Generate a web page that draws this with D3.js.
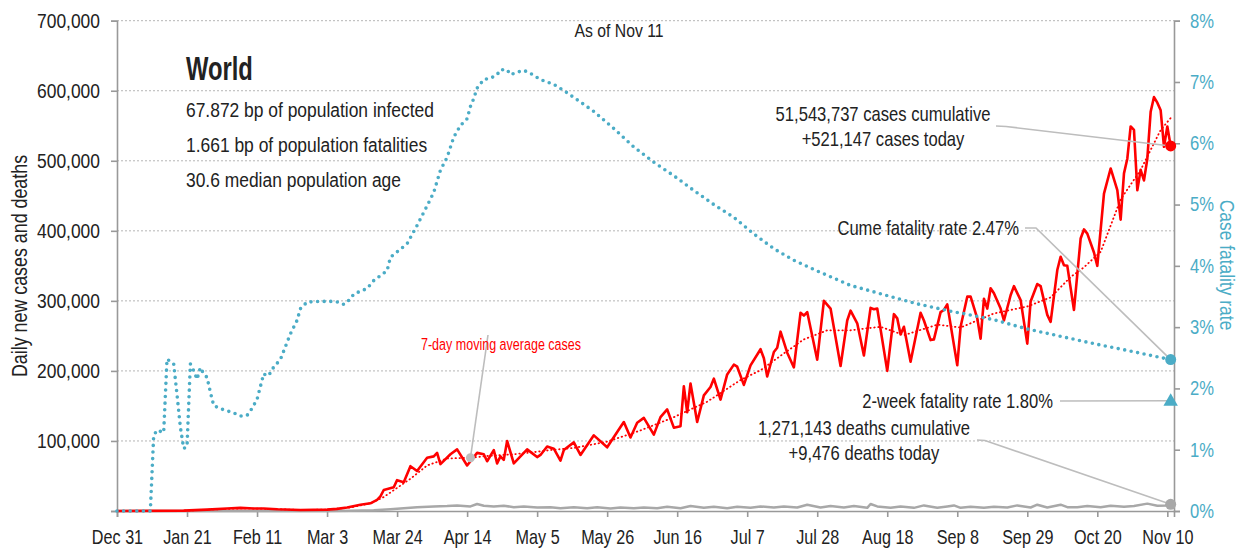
<!DOCTYPE html>
<html>
<head>
<meta charset="utf-8">
<script src="https://cdn.jsdelivr.net/npm/d3@7"></script>
<style>
  body { margin: 0; background: #fff; }
  svg text { font-family: "Liberation Sans Narrow", "Liberation Sans", Arial, sans-serif; fill: #222; }
</style>
</head>
<body>
<svg id="chart" width="1241" height="548"></svg>
<script>
// days are counted from Dec 31, 2019; case and death values in thousands
const casesDaily = [[0,0],[20,0.5],[27,2],[33,3.5],[37,4.5],[41,3.5],[44,3.5],[48,2.5],[55,1.5],[63,2],[66,3],[69,5],[73,9],[76,11],[78,16],[79,21],[80,30],
  [83,34],[84,44],[86,41],[88,64],[90,57],[93,76],[95,78],[96,83],[97,67],[100,81],[102,88],[105,65],[108,83],[110,81],[111,71],[113,87],[114,68],
  [115,78],[116,73],[117,100],[119,68],[123,88],[126,77],[127,80],[129,92],[131,89],[133,72],[134,87],[137,98],[139,80],[143,108],[147,91],[151,120],
  [152,127],[154,105],[156,126],[158,133],[161,109],[163,134],[165,145],[167,119],[169,121],[170,178],[171,141],[172,182],[174,127],[176,165],[178,177],
  [179,189],[181,159],[183,195],[185,209],[186,206],[188,180],[190,208],[193,231],[194,218],[195,192],[197,227],[198,233],[199,256],[201,226],[203,205],
  [205,283],[206,279],[207,284],[210,216],[212,300],[214,289],[217,207],[219,272],[220,286],[222,268],[224,222],[226,290],[227,288],[228,289],[231,200],
  [233,281],[234,275],[235,252],[236,263],[238,213],[241,283],[242,272],[244,244],[245,245],[247,284],[248,287],[249,295],[252,208],[253,263],[255,306],
  [256,306],[258,275],[259,246],[260,303],[261,289],[262,318],[263,311],[265,289],[266,272],[268,308],[269,321],[271,301],[273,239],[274,299],[276,324],
  [277,321],[279,280],[280,270],[282,344],[283,363],[284,351],[285,350],[287,287],[289,389],[290,402],[291,396],[293,369],[294,350],[296,453],[298,489],
  [300,458],[301,416],[302,482],[303,503],[304,549],[305,544],[306,458],[307,487],[308,472],[309,503],[310,570],[311,591],[312,583],[313,572],[314,520],
  [315,549],[316,521.147]];

const casesAvg7 = [[0,0],[20,0.3],[30,2.5],[38,3.8],[46,3],[55,1.5],[63,2],[70,5],[76,11],[80,20],[84,33],[88,46],[93,65],[99,75],[106,76],[112,79],
  [119,81],[125,84],[130,87],[137,90],[147,99],[157,115],[167,134],[177,156],[187,187],[193,201],[200,225],[206,245],[213,258],[220,258],[229,263],
  [236,251],[246,266],[253,262],[263,282],[273,292],[280,305],[286,334],[290,348],[295,370],[301,445],[307,487],[313,544],[316,561]];

const deathsDaily = [[0,0],[50,0.1],[63,0.1],[70,0.4],[77,1],[82,2.5],[86,4],[90,5.5],[95,6.5],[99,7],[102,8],[106,6.5],[108,10],[110,7.5],[113,6.5],
  [116,7.5],[119,5.5],[122,6.5],[126,5],[130,5.5],[133,4],[137,5.5],[141,4],[144,5.5],[148,3.5],[151,5],[155,4],[158,5],[162,4],[165,6],[169,4],[172,7],
  [176,4.5],[179,6],[183,4],[186,6],[190,4.5],[193,6.5],[197,5],[200,6.5],[204,5],[207,9],[211,5],[214,7],[218,5],[221,7],[225,4.5],[226,10],[228,6.5],
  [232,4.5],[235,6.5],[239,4.5],[242,8],[246,4.5],[249,6.5],[251,8],[253,4.5],[256,6],[260,4.5],[263,6],[267,5],[270,8],[274,5],[276,9],[279,5],[283,9],
  [285,5.5],[288,5.5],[291,7],[295,5.5],[298,7.5],[302,6],[305,7],[309,10.5],[312,7.5],[315,8],[316,9.476]];

// case fatality rate, percent
const fatalityRate = [[0,0],[10,0],[11,1.23],[12,1.32],[14,1.28],[15,2.48],[17,2.4],[18,1.9],[19,1.37],[20,1.02],[21,1.05],[22,2.4],[23,2.29],[24,2.15],
  [25,2.34],[26,2.24],[27,2.18],[28,1.94],[29,1.72],[31,1.67],[35,1.6],[37,1.55],[39,1.56],[40,1.63],[42,1.82],[44,2.24],[45,2.2],[46,2.25],[47,2.35],
  [49,2.47],[52,2.89],[54,3.11],[55,3.3],[57,3.41],[61,3.42],[65,3.42],[67,3.4],[68,3.37],[70,3.46],[71,3.54],[75,3.63],[77,3.76],[81,3.92],[82,4.14],
  [87,4.36],[90,4.66],[93,4.98],[95,5.2],[97,5.56],[99,5.77],[101,6.1],[103,6.29],[105,6.4],[106,6.6],[107,6.73],[108,6.9],[110,7.04],[112,7.06],
  [114,7.12],[115,7.2],[117,7.2],[118,7.12],[120,7.16],[122,7.19],[124,7.14],[127,7.04],[131,6.96],[134,6.86],[138,6.71],[143,6.52],[149,6.24],
  [155,5.94],[161,5.69],[167,5.47],[173,5.23],[179,5.0],[185,4.79],[191,4.52],[197,4.28],[203,4.09],[209,3.94],[220,3.68],[230,3.53],[240,3.38],
  [250,3.26],[254,3.22],[263,3.12],[273,2.97],[283,2.85],[293,2.73],[303,2.62],[316,2.47]];

const twoWeekRate = 1.80;
const leftTicks = [0, 100000, 200000, 300000, 400000, 500000, 600000, 700000];
const rightTicks = [0, 1, 2, 3, 4, 5, 6, 7, 8];
const xTickDays = [0, 21, 42, 63, 84, 105, 126, 147, 168, 189, 210, 231, 252, 273, 294, 315];
const infoLines = ["67.872 bp of population infected", "1.661 bp of population fatalities", "30.6 median population age"];

const blue = "#4bacc6", red = "#ff0000", grey = "#a8a8a8";
const SQ = 0.83; // narrow the regular face to a condensed look
const start = new Date(2019, 11, 31);
const day = d => d3.timeDay.offset(start, d);

const svg = d3.select("#chart");
const x = d3.scaleTime().domain([day(0), day(317)]).range([117, 1174]);
const y = d3.scaleLinear().domain([0, 700000]).range([511, 20.7]);
const yR = d3.scaleLinear().domain([0, 8]).range([511, 20.7]);

// text helper: position through transform so the horizontal squeeze keeps the anchor
function label(tx, ty, str, size, anchor, opt = {}) {
  const rot = opt.rotate ? ` rotate(${opt.rotate})` : "";
  return svg.append("text")
    .attr("transform", `translate(${tx},${ty})${rot} scale(${opt.sq || SQ},1)`)
    .attr("text-anchor", anchor).attr("font-size", size)
    .attr("font-weight", opt.weight || null)
    .style("fill", opt.fill || null)
    .text(str);
}
function squeezeAxis(g, size) {
  g.selectAll("text").each(function () {
    const t = d3.select(this);
    const tx = +t.attr("x") || 0, ty = +t.attr("y") || 0;
    t.attr("x", 0).attr("y", 0).attr("font-size", size)
      .attr("transform", `translate(${tx},${ty}) scale(${SQ},1)`);
  });
}

// grid
svg.append("g").selectAll("line")
  .data(leftTicks.slice(1)).join("line")
  .attr("x1", 117).attr("x2", 1174)
  .attr("y1", d => y(d)).attr("y2", d => y(d))
  .attr("stroke", "#b5b5b5").attr("stroke-dasharray", "2,2");

// axes
const gx = svg.append("g").attr("transform", "translate(0,511)")
  .call(d3.axisBottom(x).tickValues(xTickDays.map(day)).tickSize(6).tickPadding(13).tickFormat(d3.timeFormat("%b %-d")));
squeezeAxis(gx, 19.5);

const gl = svg.append("g").attr("transform", "translate(117,0)")
  .call(d3.axisLeft(y).tickValues(leftTicks).tickSize(6).tickPadding(11)
    .tickFormat(d => d === 0 ? "" : d3.format(",")(d)));
squeezeAxis(gl, 21);

const gr = svg.append("g").attr("transform", "translate(1174,0)")
  .call(d3.axisRight(yR).tickValues(rightTicks).tickSize(6).tickPadding(10).tickFormat(d => d + "%"));
squeezeAxis(gr, 20);
gr.selectAll("text").style("fill", blue);

svg.selectAll(".domain, .tick line").attr("stroke", "#999").attr("stroke-width", 1.6);

label(27, 266, "Daily new cases and deaths", 21.5, "middle", { rotate: -90 });
label(1220, 265, "Case fatality rate", 21, "middle", { rotate: 90, fill: blue });

// series
const line = (sc, k) => d3.line().x(d => x(day(d[0]))).y(d => sc(d[1] * k));

svg.append("path").datum(deathsDaily).attr("d", line(y, 1000))
  .attr("fill", "none").attr("stroke", grey).attr("stroke-width", 2.5).attr("stroke-linejoin", "round");
svg.append("path").datum(casesDaily).attr("d", line(y, 1000))
  .attr("fill", "none").attr("stroke", red).attr("stroke-width", 2.6).attr("stroke-linejoin", "round");
svg.append("path").datum(casesAvg7).attr("d", line(y, 1000))
  .attr("fill", "none").attr("stroke", red).attr("stroke-width", 1.8)
  .attr("stroke-linecap", "round").attr("stroke-dasharray", "0.5,3.5");
svg.append("path").datum(fatalityRate).attr("d", line(yR, 1))
  .attr("fill", "none").attr("stroke", blue).attr("stroke-width", 3.6)
  .attr("stroke-linecap", "round").attr("stroke-dasharray", "0,6.6");

// header text
label(619, 37, "As of Nov 11", 19, "middle");
label(186, 80, "World", 33, "start", { weight: "bold", sq: 0.72 });
infoLines.forEach((s, i) => label(186, 117 + i * 35, s, 21, "start"));

// annotations
const last = casesDaily[casesDaily.length - 1];
const lastDeath = deathsDaily[deathsDaily.length - 1];
const lastRate = fatalityRate[fatalityRate.length - 1];
const xl = x(day(last[0]));
const lead = pts => svg.append("polyline").attr("points", pts.map(p => p.join(",")).join(" "))
  .attr("fill", "none").attr("stroke", "#bdbdbd").attr("stroke-width", 1.6);

lead([[996, 126], [1006, 126.5], [xl, y(last[1] * 1000)]]);
lead([[1025, 228], [1036, 228], [xl, yR(lastRate[1])]]);
lead([[1060, 401], [xl, yR(twoWeekRate)]]);
lead([[977, 440], [985, 440.5], [xl, y(lastDeath[1] * 1000)]]);
const maDot = casesAvg7.find(d => d[0] === 106);
lead([[488, 335], [x(day(maDot[0])), y(maDot[1] * 1000)]]);

label(883, 120.5, "51,543,737 cases cumulative", 20, "middle");
label(883, 146, "+521,147 cases today", 20, "middle");
label(1019, 235, "Cume fatality rate 2.47%", 20, "end");
label(1053, 408, "2-week fatality rate 1.80%", 20, "end");
label(864, 435, "1,271,143 deaths cumulative", 20, "middle");
label(864, 460, "+9,476 deaths today", 20, "middle");
label(501, 349.5, "7-day moving average cases", 16.5, "middle", { fill: red, sq: 0.76 });

// markers
svg.append("circle").attr("cx", x(day(maDot[0]))).attr("cy", y(maDot[1] * 1000)).attr("r", 4.5).attr("fill", "#bdbdbd");
svg.append("circle").attr("cx", xl).attr("cy", y(last[1] * 1000)).attr("r", 5.5).attr("fill", red);
svg.append("circle").attr("cx", xl).attr("cy", y(lastDeath[1] * 1000)).attr("r", 5.5).attr("fill", grey);
svg.append("circle").attr("cx", xl).attr("cy", yR(lastRate[1])).attr("r", 5.5).attr("fill", blue);
svg.append("path").attr("d", d3.symbol(d3.symbolTriangle, 90))
  .attr("transform", `translate(${xl},${yR(twoWeekRate) + 1})`).attr("fill", blue);
</script>
</body>
</html>
